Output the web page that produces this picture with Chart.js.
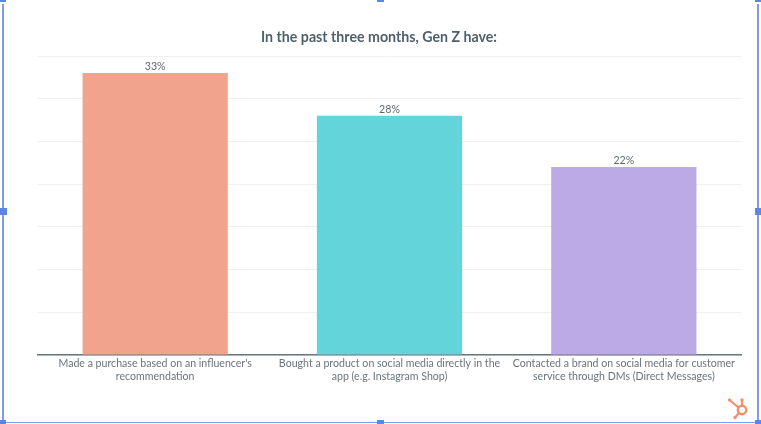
<!DOCTYPE html>
<html>
<head>
<meta charset="utf-8">
<style>
html,body{margin:0;padding:0;background:#fff;width:761px;height:424px;overflow:hidden}
#wrap{position:relative;width:761px;height:424px}
canvas{position:absolute;left:0;top:0}
.l{position:absolute;background:#7a9ee8}
.h{position:absolute;background:#5b87e3}
svg{position:absolute;left:725px;top:397px}
</style>
<script src="https://cdn.jsdelivr.net/npm/chart.js@4"></script>
</head>
<body>
<div id="wrap">
<canvas id="c" width="761" height="424"></canvas>
<div class="l" style="left:2px;top:4px;width:2px;height:417px"></div>
<div class="l" style="left:757px;top:4px;width:2px;height:417px"></div>
<div class="l" style="left:4px;top:422px;width:753px;height:1px"></div>
<div class="h" style="left:0;top:208px;width:7px;height:7px"></div>
<div class="h" style="left:755px;top:208px;width:6px;height:7px"></div>
<div class="h" style="left:377px;top:0;width:7px;height:2px"></div>
<div class="h" style="left:377px;top:420px;width:7px;height:4px"></div>
<div class="h" style="left:0;top:0;width:6px;height:2px"></div>
<div class="h" style="left:755px;top:0;width:6px;height:2px"></div>
<div class="h" style="left:0;top:420px;width:6px;height:4px"></div>
<div class="h" style="left:755px;top:420px;width:6px;height:4px"></div>
<svg width="28" height="24" viewBox="0 0 28 24" fill="none">
  <circle cx="17" cy="13" r="4.2" stroke="#f0906f" stroke-width="2.4"/>
  <path d="M13.5 10.5 L5 3.5 M17 8.8 V3.5 M14 16 L10.5 20" stroke="#f0906f" stroke-width="2.2" stroke-linecap="round"/>
  <circle cx="4.5" cy="3" r="1.7" fill="#f0906f"/>
  <circle cx="17" cy="3" r="1.7" fill="#f0906f"/>
  <circle cx="10" cy="20.5" r="1.7" fill="#f0906f"/>
</svg>
</div>
<script>
const chartTitle = "In the past three months, Gen Z have:";
const categories = [
  ["Made a purchase based on an influencer's", "recommendation"],
  ["Bought a product on social media directly in the", "app (e.g. Instagram Shop)"],
  ["Contacted a brand on social media for customer", "service through DMs (Direct Messages)"]
];
const values = [33, 28, 22];
const barColors = ["#f2a38d", "#62d4da", "#bcaae7"];
const yMax = 35;
const yStep = 5;

const barValueLabels = {
  id: "barValueLabels",
  afterDatasetsDraw(chart) {
    const ctx = chart.ctx;
    const meta = chart.getDatasetMeta(0);
    ctx.save();
    ctx.font = "10.6px Lato";
    ctx.fillStyle = "#5f6a72";
    ctx.textAlign = "center";
    ctx.textBaseline = "bottom";
    meta.data.forEach((bar, i) => {
      ctx.fillText(values[i] + "%", bar.x, bar.y - 1);
    });
    ctx.restore();
  }
};

new Chart(document.getElementById("c"), {
  type: "bar",
  data: {
    labels: categories,
    datasets: [{
      data: values,
      backgroundColor: barColors,
      categoryPercentage: 0.62,
      barPercentage: 1,
      borderWidth: 0
    }]
  },
  options: {
    responsive: false,
    animation: false,
    devicePixelRatio: 1,
    layout: { padding: { left: 17, right: 20, top: 0, bottom: 0 } },
    plugins: {
      legend: { display: false },
      tooltip: { enabled: false },
      title: {
        display: true,
        text: chartTitle,
        color: "#4f5f6b",
        font: { family: "Lato", size: 14.2, weight: "bold" },
        padding: { top: 29, bottom: 10 }
      }
    },
    scales: {
      x: {
        grid: { display: false, drawTicks: false },
        border: { color: "#6b757c", width: 1.5 },
        ticks: {
          color: "#6a747b",
          font: { family: "Lato", size: 10.6 },
          padding: 2,
          maxRotation: 0,
          autoSkip: false
        },
        afterFit(s) { s.height = 69; }
      },
      y: {
        min: 0,
        max: yMax,
        grid: { color: "#eef0f1", lineWidth: 1, drawTicks: false },
        border: { display: false },
        ticks: { display: false, stepSize: yStep },
        afterFit(s) { s.width = 21; }
      }
    }
  },
  plugins: [barValueLabels]
});
</script>
</body>
</html>
